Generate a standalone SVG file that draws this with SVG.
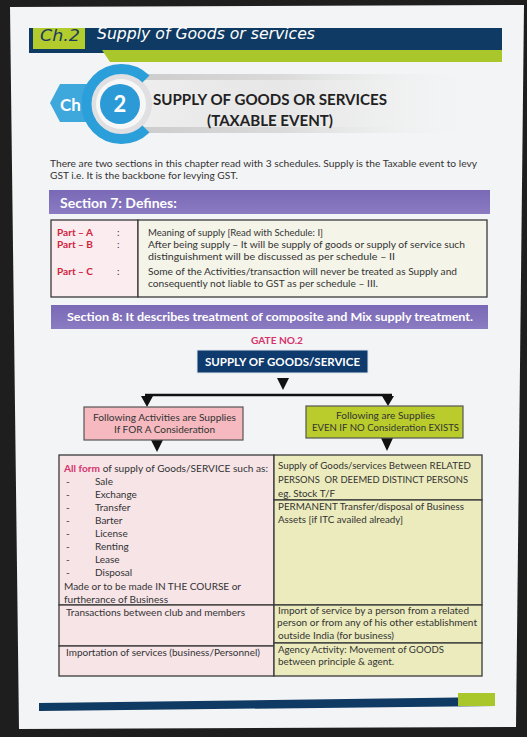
<svg xmlns="http://www.w3.org/2000/svg" width="527" height="737" viewBox="0 0 527 737">
<style>
.body{font-family:Lato,"Open Sans","Liberation Sans",sans-serif;font-size:10px;fill:#333}
.b{font-weight:bold}
.red{fill:#d2233d;font-weight:bold}
.pink{fill:#d6336c;font-weight:bold}
.wh{fill:#fff}
.cell{stroke:#3a3a3a;stroke-width:1.3}
.tri{fill:#111}
.hand{font-family:"DejaVu Sans","Liberation Sans",sans-serif;font-style:italic;font-size:16px}
</style>
<defs>
<linearGradient id="rib" x1="0" y1="0" x2="1" y2="0">
<stop offset="0" stop-color="#cbcbcb"/>
<stop offset="0.45" stop-color="#dadada"/>
<stop offset="1" stop-color="#f3f3f3" stop-opacity="0"/>
</linearGradient>
<linearGradient id="ribIn" x1="0" y1="0" x2="1" y2="0">
<stop offset="0" stop-color="#eeeeee"/>
<stop offset="1" stop-color="#f6f6f6" stop-opacity="0"/>
</linearGradient>
<linearGradient id="purple" x1="0" y1="0" x2="0" y2="1">
<stop offset="0" stop-color="#7a69b6"/>
<stop offset="1" stop-color="#8a7bc2"/>
</linearGradient>
</defs>
<rect width="527" height="737" fill="#1e1e1e"/>
<polygon points="10,7 524,5 516,727 19,729" fill="#f3f4f5"/>

<g id="header">
<rect x="29" y="28" width="473" height="22" fill="#0f3a63"/>
<rect x="29" y="28" width="75" height="25" fill="#0f3a63"/>
<polygon points="102,50 502,50 502,62 110,62" fill="#a9c62a"/>
<rect x="33" y="28" width="52" height="21" fill="#b2cc2e"/>
<text x="40" y="41" class="hand" fill="#1b3a5c" textLength="40" lengthAdjust="spacingAndGlyphs">Ch.2</text>
<text x="97" y="39" class="hand" fill="#fff" font-size="17" textLength="218" lengthAdjust="spacingAndGlyphs">Supply of Goods or services</text>
</g>

<g id="badge">
<rect x="120" y="74" width="360" height="59" fill="url(#rib)"/>
<rect x="140" y="80" width="320" height="47" fill="url(#ribIn)"/>
<polygon points="50,103 60,84 98,84 98,122 60,122" fill="#3ea8dd"/>
<text x="60" y="111" font-family="Lato,'Open Sans',sans-serif" font-weight="bold" font-size="17" fill="#fff">Ch</text>
<circle cx="121" cy="104" r="31" fill="#e0e0e2"/>
<path d="M146,79 A35,35 0 1 0 146,129" fill="none" stroke="#2a9fd9" stroke-width="10"/>
<circle cx="121" cy="104" r="25" fill="#f7f7f7"/>
<circle cx="120" cy="104" r="20" fill="#2b9ad6"/>
<text x="120" y="112" text-anchor="middle" font-family="Lato,'Open Sans',sans-serif" font-weight="bold" font-size="22" fill="#fff">2</text>
<text x="153" y="105" font-family="Lato,'Open Sans',sans-serif" font-weight="bold" font-size="14.5" fill="#222" textLength="234" lengthAdjust="spacingAndGlyphs">SUPPLY OF GOODS OR SERVICES</text>
<text x="207" y="126" font-family="Lato,'Open Sans',sans-serif" font-weight="bold" font-size="14.5" fill="#222" textLength="126" lengthAdjust="spacingAndGlyphs">(TAXABLE EVENT)</text>
</g>

<g id="intro" class="body">
<text x="50" y="167" textLength="427" lengthAdjust="spacingAndGlyphs">There are two sections in this chapter read with 3 schedules. Supply is the Taxable event to levy</text>
<text x="50" y="179" textLength="188" lengthAdjust="spacingAndGlyphs">GST i.e. It is the backbone for levying GST.</text>
</g>

<g id="section7">
<rect x="49" y="190" width="441" height="24" fill="url(#purple)"/>
<text x="60" y="208" font-family="Lato,'Open Sans',sans-serif" font-weight="bold" font-size="14" fill="#fff">Section 7: Defines:</text>
</g>

<g id="section7-table" class="body">
<rect x="51" y="220" width="87" height="77" fill="#fbecef" class="cell"/>
<rect x="138" y="220" width="349" height="77" fill="#f4f4e8" class="cell"/>
<text x="57" y="236" class="red" textLength="36" lengthAdjust="spacingAndGlyphs">Part – A</text>
<text x="117" y="236">:</text>
<text x="57" y="248" class="red" textLength="36" lengthAdjust="spacingAndGlyphs">Part – B</text>
<text x="117" y="248">:</text>
<text x="57" y="275" class="red" textLength="36" lengthAdjust="spacingAndGlyphs">Part – C</text>
<text x="117" y="275">:</text>
<text x="148" y="236" textLength="175" lengthAdjust="spacingAndGlyphs">Meaning of supply [Read with Schedule: I]</text>
<text x="148" y="248" textLength="317" lengthAdjust="spacingAndGlyphs">After being supply – It will be supply of goods or supply of service such</text>
<text x="148" y="260" textLength="247" lengthAdjust="spacingAndGlyphs">distinguishment will be discussed as per schedule – II</text>
<text x="148" y="275" textLength="309" lengthAdjust="spacingAndGlyphs">Some of the Activities/transaction will never be treated as Supply and</text>
<text x="148" y="287" textLength="230" lengthAdjust="spacingAndGlyphs">consequently not liable to GST as per schedule – III.</text>
</g>

<g id="section8">
<rect x="51" y="305" width="437" height="24" fill="url(#purple)"/>
<text x="67" y="321" font-family="Lato,'Open Sans',sans-serif" font-weight="bold" font-size="11.5" fill="#fff" textLength="406" lengthAdjust="spacingAndGlyphs">Section 8: It describes treatment of composite and Mix supply treatment.</text>
</g>

<g id="gate-label">
<text x="277" y="344" text-anchor="middle" font-family="Lato,'Open Sans',sans-serif" font-size="10" class="pink" textLength="52" lengthAdjust="spacingAndGlyphs">GATE NO.2</text>
</g>

<g id="supply-node">
<rect x="197" y="350" width="171" height="23" fill="#0e3a6e" stroke="#dfe6ee" stroke-width="1"/>
<text x="205" y="366" font-family="Lato,'Open Sans',sans-serif" font-weight="bold" font-size="12" fill="#fff" textLength="155" lengthAdjust="spacingAndGlyphs">SUPPLY OF GOODS/SERVICE</text>
</g>

<g id="connectors">
<polygon points="277,378 289,378 283,390" class="tri"/>
<line x1="145" y1="395" x2="392" y2="395" stroke="#111" stroke-width="2.5"/>
<polygon points="141,396 153,396 147,407" class="tri"/>
<polygon points="382,396 394,396 388,406" class="tri"/>
<polygon points="151,440 163,440 157,452" class="tri"/>
<polygon points="381,438 393,438 387,451" class="tri"/>
</g>

<g id="left-node" class="body">
<rect x="84" y="407" width="159" height="33" fill="#f5b9bf" stroke="#555" stroke-width="1.2"/>
<text x="93" y="421" textLength="143" lengthAdjust="spacingAndGlyphs">Following Activities are Supplies</text>
<text x="114" y="433" textLength="101" lengthAdjust="spacingAndGlyphs">If FOR A Consideration</text>
</g>

<g id="right-node" class="body">
<rect x="306" y="406" width="157" height="32" fill="#b9cc2c" stroke="#555" stroke-width="1.2"/>
<text x="336" y="419" textLength="99" lengthAdjust="spacingAndGlyphs">Following are Supplies</text>
<text x="312" y="431" textLength="147" lengthAdjust="spacingAndGlyphs">EVEN IF NO Consideration EXISTS</text>
</g>

<g id="table" class="body">
<rect x="59" y="455" width="215" height="150" fill="#f6e4e7" class="cell"/>
<rect x="59" y="605" width="215" height="41" fill="#f6e4e7" class="cell"/>
<rect x="59" y="646" width="215" height="30" fill="#f6e4e7" class="cell"/>
<rect x="274" y="455" width="208" height="45" fill="#ebebbd" class="cell"/>
<rect x="274" y="500" width="208" height="105" fill="#ebebbd" class="cell"/>
<rect x="274" y="605" width="208" height="38" fill="#ebebbd" class="cell"/>
<rect x="274" y="643" width="208" height="33" fill="#ebebbd" class="cell"/>
<text x="64" y="472" textLength="204" lengthAdjust="spacingAndGlyphs"><tspan class="pink">All form</tspan> of supply of Goods/SERVICE such as:</text>
<text x="66" y="485">-</text><text x="95" y="485">Sale</text>
<text x="66" y="498">-</text><text x="95" y="498">Exchange</text>
<text x="66" y="511">-</text><text x="95" y="511">Transfer</text>
<text x="66" y="524">-</text><text x="95" y="524">Barter</text>
<text x="66" y="537">-</text><text x="95" y="537">License</text>
<text x="66" y="550">-</text><text x="95" y="550">Renting</text>
<text x="66" y="563">-</text><text x="95" y="563">Lease</text>
<text x="66" y="576">-</text><text x="95" y="576">Disposal</text>
<text x="64" y="590" textLength="177" lengthAdjust="spacingAndGlyphs">Made or to be made IN THE COURSE or</text>
<text x="64" y="603" textLength="104" lengthAdjust="spacingAndGlyphs">furtherance of Business</text>
<text x="278" y="469" textLength="193" lengthAdjust="spacingAndGlyphs">Supply of Goods/services Between RELATED</text>
<text x="278" y="483" textLength="190" lengthAdjust="spacingAndGlyphs" xml:space="preserve">PERSONS  OR DEEMED DISTINCT PERSONS</text>
<text x="278" y="497" textLength="57" lengthAdjust="spacingAndGlyphs">eg. Stock T/F</text>
<text x="278" y="510" textLength="186" lengthAdjust="spacingAndGlyphs">PERMANENT Transfer/disposal of Business</text>
<text x="278" y="523" textLength="125" lengthAdjust="spacingAndGlyphs">Assets [if ITC availed already]</text>
<text x="66" y="616" textLength="179" lengthAdjust="spacingAndGlyphs">Transactions between club and members</text>
<text x="278" y="614" textLength="191" lengthAdjust="spacingAndGlyphs">Import of service by a person from a related</text>
<text x="277" y="626" textLength="200" lengthAdjust="spacingAndGlyphs">person or from any of his other establishment</text>
<text x="278" y="639" textLength="116" lengthAdjust="spacingAndGlyphs">outside India (for business)</text>
<text x="66" y="656" textLength="194" lengthAdjust="spacingAndGlyphs">Importation of services (business/Personnel)</text>
<text x="278" y="653" textLength="166" lengthAdjust="spacingAndGlyphs">Agency Activity: Movement of GOODS</text>
<text x="278" y="665" textLength="116" lengthAdjust="spacingAndGlyphs">between principle &amp; agent.</text>
</g>

<g id="footer">
<polygon points="39,703 495,697 495,706 39,711" fill="#0f3a63"/>
<rect x="458" y="693" width="37" height="13" fill="#a9c62a"/>
</g>
</svg>
